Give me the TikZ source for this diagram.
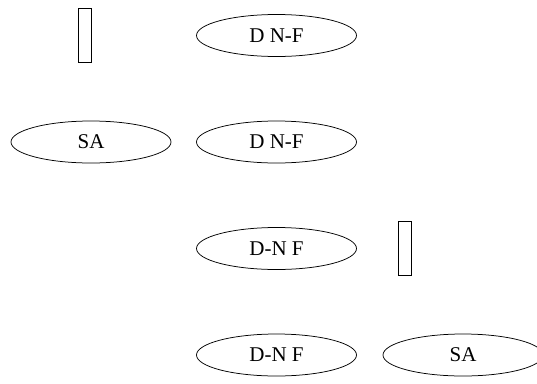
\documentclass[tikz,border=0pt]{standalone}
\usepackage{fontspec}
\setmainfont{Liberation Serif}
\usetikzlibrary{shapes.geometric}
\tikzset{
  oval/.style={ellipse, draw, line width=0.75pt, minimum width=160pt, minimum height=42pt, inner sep=0pt, font=\fontsize{21}{25}\selectfont},
  bar/.style={rectangle, draw, line width=0.75pt, minimum width=13.4pt, minimum height=54pt, inner sep=0pt}
}
\begin{document}
\begin{tikzpicture}[x=1pt,y=-1pt]
\useasboundingbox (0,0) rectangle (537,383);
\clip (0,0) rectangle (537,383);
\node[bar] (r1) at (85,35.3) {};
\node[oval] (a1) at (276.5,35.5) {D N-F};
\node[oval] (s1) at (91,142) {SA};
\node[oval] (a2) at (276.5,142) {D N-F};
\node[oval] (b1) at (276.5,248.5) {D-N F};
\node[bar] (r2) at (405,248.7) {};
\node[oval] (b2) at (276.5,355) {D-N F};
\node[oval] (s2) at (463,355) {SA};
\end{tikzpicture}
\end{document}
